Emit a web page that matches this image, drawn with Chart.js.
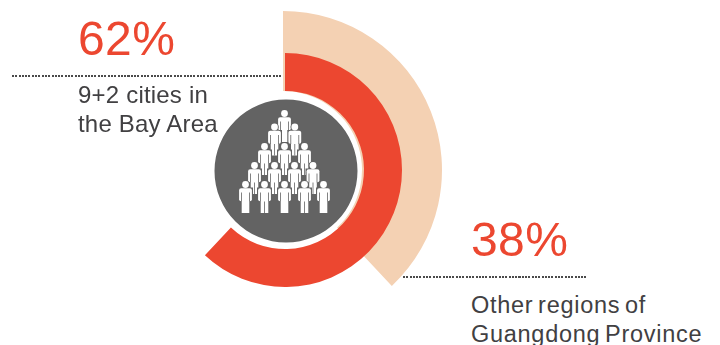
<!DOCTYPE html>
<html>
<head>
<meta charset="utf-8">
<script src="https://cdn.jsdelivr.net/npm/chart.js@4/dist/chart.umd.min.js"></script>
<style>
  html, body { margin: 0; padding: 0; background: #fff; }
  #page { position: relative; width: 720px; height: 345px; overflow: hidden; font-family: "Liberation Sans", Arial, sans-serif; }
  canvas { position: absolute; }
  .pct, .note { position: absolute; white-space: nowrap; }
  .pct { font-size: 48px; line-height: 48px; color: #ec4730; letter-spacing: 0.4px; }
  .note { font-size: 24px; line-height: 28.5px; color: #414042; letter-spacing: 0.2px; }
  .dots { position: absolute; height: 2px; background: repeating-linear-gradient(90deg, #4a4a4a 0 2px, transparent 2px 3.3px); }
</style>
</head>
<body>
<div id="page">
  <canvas id="outerRing" width="340" height="340" style="left:113px;top:0"></canvas>
  <canvas id="innerRing" width="340" height="340" style="left:115px;top:0"></canvas>
  <canvas id="hub" width="160" height="160" style="left:205.5px;top:90.5px"></canvas>
  <div class="dots" style="left:12px;top:75px;width:271px"></div>
  <div class="dots" style="left:403px;top:276px;width:184px"></div>
  <div class="pct" id="pctBay" style="left:78px;top:15px"></div>
  <div class="note" id="noteBay" style="left:78px;top:81px"></div>
  <div class="pct" id="pctOther" style="left:471px;top:216px"></div>
  <div class="note" id="noteOther" style="left:471px;top:291px;font-size:23.5px;letter-spacing:0.72px;word-spacing:-2.5px"></div>
</div>
<script>
const regions = ['9+2 cities in<br>the Bay Area', 'Other regions of<br>Guangdong Province'];
const shares = [62, 38];

const red = '#ec4730';
const peach = '#f4d1b3';
const grey = '#636363';
const holeRadius = 79;

// head positions of the little crowd in the hub, back row first: [x, y, robe]
const crowd = [
  [78.5, 22.5, true],
  [68.5, 36, false], [88.8, 36, false],
  [58.5, 55.5, false], [78.5, 55.5, false], [98.5, 55.5, false],
  [48.5, 74.5, false], [68.5, 74.5, false], [88.5, 74.5, false], [107, 74.5, false],
  [39.5, 93.5, true], [58.5, 93.5, false], [78.5, 93.5, true], [98.5, 93.5, false], [117.5, 93.5, true]
];

document.getElementById('pctBay').textContent = shares[0] + '%';
document.getElementById('pctOther').textContent = shares[1] + '%';
document.getElementById('noteBay').innerHTML = regions[0];
document.getElementById('noteOther').innerHTML = regions[1];

function ring(id, value, color, radius) {
  return new Chart(document.getElementById(id), {
    type: 'doughnut',
    data: {
      labels: ['share', 'rest'],
      datasets: [{
        data: [value, 100 - value],
        backgroundColor: [color, 'rgba(0,0,0,0)'],
        borderWidth: 0
      }]
    },
    options: {
      responsive: false,
      animation: false,
      radius: radius,
      // chart.js takes the cutout relative to the outer radius
      cutout: (holeRadius / radius * 100) + '%',
      plugins: { legend: { display: false }, tooltip: { enabled: false } }
    }
  });
}

function drawPerson(ctx, x, y, robe) {
  ctx.save();
  ctx.translate(x, y);
  // dark halo so overlapping figures stay apart
  ctx.fillStyle = grey;
  ctx.fillRect(-7.5, 3, 15, 14);
  ctx.fillRect(-4.5, 14, 9, 15.5);
  ctx.beginPath();
  ctx.arc(0, 0, 4.3, 0, Math.PI * 2);
  ctx.fill();

  ctx.fillStyle = '#fff';
  ctx.beginPath();
  ctx.arc(0, 0, 3.4, 0, Math.PI * 2);
  ctx.fill();
  ctx.beginPath();
  ctx.roundRect(-6.4, 3.8, 12.8, 13, 2);
  ctx.fill();
  ctx.fillRect(-3.8, 14, 7.6, 14.5);

  ctx.fillStyle = grey;
  ctx.fillRect(-4.4, 8, 0.8, 9);
  ctx.fillRect(3.6, 8, 0.8, 9);
  if (!robe) ctx.fillRect(-0.4, 17, 0.8, 11.5);
  ctx.restore();
}

ring('outerRing', shares[1], peach, 159);
ring('innerRing', shares[0], red, 117);

new Chart(document.getElementById('hub'), {
  type: 'pie',
  data: { labels: ['hub'], datasets: [{ data: [1], backgroundColor: [grey], borderWidth: 0 }] },
  options: {
    responsive: false,
    animation: false,
    radius: 71.5,
    plugins: { legend: { display: false }, tooltip: { enabled: false } }
  },
  plugins: [{
    id: 'crowd',
    afterDraw(chart) {
      crowd.forEach(p => drawPerson(chart.ctx, p[0], p[1], p[2]));
    }
  }]
});
</script>
</body>
</html>
